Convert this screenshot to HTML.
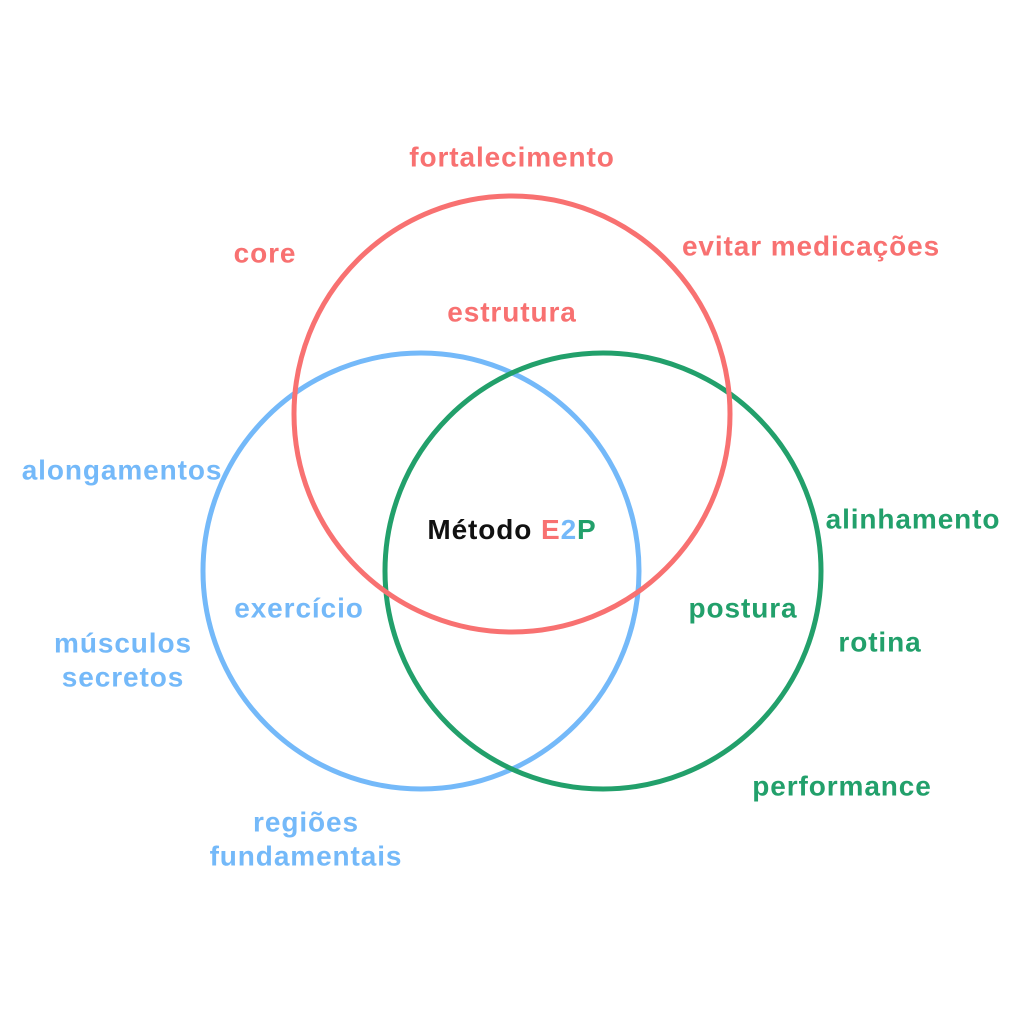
<!DOCTYPE html>
<html><head><meta charset="utf-8"><style>
html,body{margin:0;padding:0;background:#fff;}
svg{display:block}
text{font-family:"Liberation Sans",sans-serif;font-weight:bold;font-size:28px;letter-spacing:0.9px;text-anchor:middle;dominant-baseline:central}
.r{fill:#f87171}.b{fill:#74b9f9}.g{fill:#22a06b}
</style></head><body>
<svg width="1024" height="1024" viewBox="0 0 1024 1024">
<circle cx="421" cy="571" r="218" fill="none" stroke="#74b9f9" stroke-width="5"/>
<circle cx="603" cy="571" r="218" fill="none" stroke="#22a06b" stroke-width="5"/>
<circle cx="512" cy="414" r="218" fill="none" stroke="#f87171" stroke-width="5"/>
<text class="r" x="512" y="157">fortalecimento</text>
<text class="r" x="265" y="253">core</text>
<text class="r" x="811" y="246">evitar medicações</text>
<text class="r" x="512" y="312">estrutura</text>
<text class="b" x="122" y="470">alongamentos</text>
<text x="512" y="529"><tspan fill="#111">Método </tspan><tspan fill="#f87171">E</tspan><tspan fill="#74b9f9">2</tspan><tspan fill="#22a06b">P</tspan></text>
<text class="g" x="913" y="519">alinhamento</text>
<text class="b" x="299" y="608">exercício</text>
<text class="g" x="743" y="608">postura</text>
<text class="g" x="880" y="642">rotina</text>
<text class="b" x="123" y="643">músculos</text>
<text class="b" x="123" y="677">secretos</text>
<text class="g" x="842" y="786">performance</text>
<text class="b" x="306" y="822">regiões</text>
<text class="b" x="306" y="856">fundamentais</text>
</svg>
</body></html>
